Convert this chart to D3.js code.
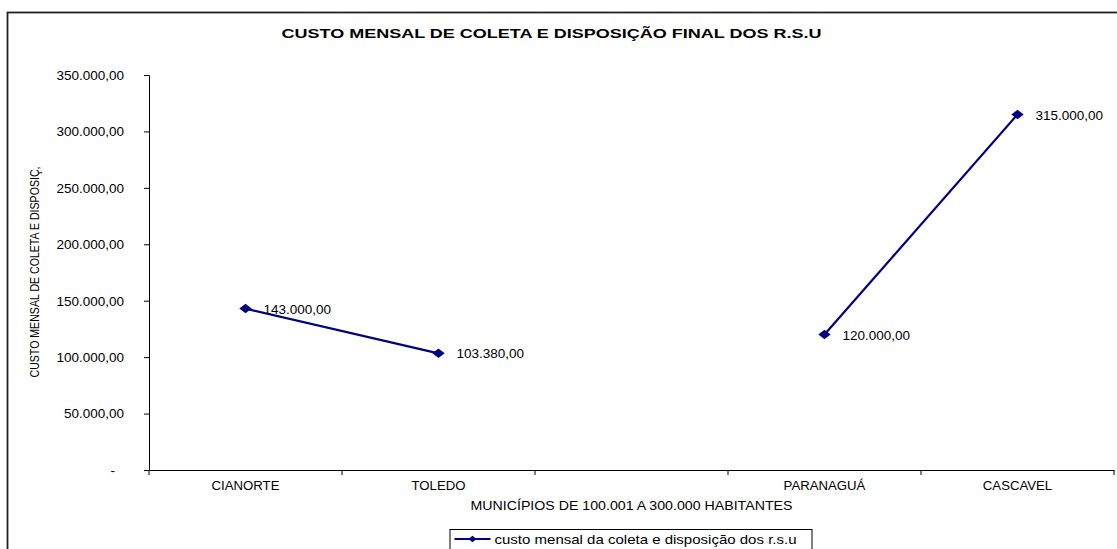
<!DOCTYPE html>
<html>
<head>
<meta charset="utf-8">
<script src="https://cdn.jsdelivr.net/npm/d3@7"></script>
<style>
  html, body { margin: 0; padding: 0; background: #fff; }
  svg { display: block; }
  text { font-family: Arial, "Liberation Sans", sans-serif; fill: #000; }
</style>
</head>
<body>
<svg id="chart" width="1117" height="549"></svg>
<script>
// Municípios de 100.001 a 300.000 habitantes — custo mensal de coleta e disposição final
const categories = ["CIANORTE", "TOLEDO", "", "PARANAGUÁ", "CASCAVEL"];
const custoMensal = [143000, 103380, null, 120000, 315000];
const yTicks = [0, 50000, 100000, 150000, 200000, 250000, 300000, 350000];

const chartTitle = "CUSTO MENSAL DE COLETA E DISPOSIÇÃO FINAL DOS R.S.U";
const xTitle = "MUNICÍPIOS DE 100.001 A 300.000 HABITANTES";
const yTitle = "CUSTO MENSAL DE COLETA E DISPOSIÇ,";
const seriesName = "custo mensal da coleta e disposição dos r.s.u";

const W = 1117, H = 549;
const plot = { left: 149, right: 1114, top: 75, bottom: 470 };
const navy = "#000080";

const ptBR = d3.formatLocale({ decimal: ",", thousands: ".", grouping: [3], currency: ["R$ ", ""] });
const fmt = ptBR.format(",.2f");
const fmtTick = v => v === 0 ? "-" : fmt(v);

const svg = d3.select("#chart");

// outer chart frame (runs past the right and bottom edges)
svg.append("rect")
  .attr("x", 7.5).attr("y", 12.5)
  .attr("width", W + 40).attr("height", H + 40)
  .attr("fill", "#fff").attr("stroke", "#222").attr("stroke-width", 1.8);

const idx = categories.map((_, i) => i);
const x = d3.scaleBand().domain(idx).range([plot.left, plot.right]).padding(0);
const y = d3.scaleLinear().domain([0, 350000]).range([plot.bottom, plot.top]);

// title
svg.append("text")
  .attr("x", (plot.left + plot.right) / 2 - 80).attr("y", 38)
  .attr("text-anchor", "middle")
  .attr("font-weight", "bold").attr("font-size", 13)
  .attr("textLength", 540).attr("lengthAdjust", "spacingAndGlyphs")
  .text(chartTitle);

// y axis
const yAxis = svg.append("g")
  .attr("transform", `translate(${plot.left},0)`)
  .call(d3.axisLeft(y).tickValues(yTicks).tickFormat(fmtTick).tickSize(5).tickPadding(20));
yAxis.selectAll("text")
  .attr("font-size", 13.5).attr("font-family", "Arial, 'Liberation Sans', sans-serif")
  .attr("dx", d => d === 0 ? -9 : 0);
yAxis.selectAll("line, path").attr("stroke", "#000").attr("stroke-width", 1);

// x axis: labels centred in each band, tick marks on band boundaries
const xAxis = svg.append("g")
  .attr("transform", `translate(0,${plot.bottom})`)
  .call(d3.axisBottom(x).tickFormat(i => categories[i]).tickSize(0).tickPadding(11));
xAxis.select(".domain").attr("stroke", "#000").attr("stroke-width", 1);
xAxis.selectAll("text")
  .attr("font-size", 13.2).attr("font-family", "Arial, 'Liberation Sans', sans-serif");

const bounds = idx.map(i => x(i)).concat([x(idx[idx.length - 1]) + x.bandwidth()]);
xAxis.selectAll("line.bound").data(bounds).enter().append("line")
  .attr("class", "bound")
  .attr("x1", d => d).attr("x2", d => d)
  .attr("y1", 0).attr("y2", 5)
  .attr("stroke", "#000").attr("stroke-width", 1);

// axis titles
svg.append("text")
  .attr("x", (plot.left + plot.right) / 2).attr("y", 510)
  .attr("text-anchor", "middle").attr("font-size", 12.5)
  .attr("textLength", 322).attr("lengthAdjust", "spacingAndGlyphs")
  .text(xTitle);

svg.append("text")
  .attr("transform", `translate(39,272) rotate(-90)`)
  .attr("text-anchor", "middle").attr("font-size", 13.5)
  .attr("textLength", 211).attr("lengthAdjust", "spacingAndGlyphs")
  .text(yTitle);

// series
const cx = i => x(i) + x.bandwidth() / 2;
const pts = idx.map(i => ({ i, v: custoMensal[i] }));

const line = d3.line()
  .defined(d => d.v != null)
  .x(d => cx(d.i)).y(d => y(d.v));

svg.append("path")
  .datum(pts)
  .attr("d", line)
  .attr("fill", "none").attr("stroke", navy).attr("stroke-width", 2.2);

// wide diamond marker
const diamond = {
  draw(ctx, size) {
    const r = Math.sqrt(size) / 2;
    ctx.moveTo(-r * 1.3, 0);
    ctx.lineTo(0, -r);
    ctx.lineTo(r * 1.3, 0);
    ctx.lineTo(0, r);
    ctx.closePath();
  }
};
const sym = d3.symbol().type(diamond).size(90);

const valid = pts.filter(d => d.v != null);
svg.selectAll("path.marker").data(valid).enter().append("path")
  .attr("class", "marker")
  .attr("transform", d => `translate(${cx(d.i)},${y(d.v)})`)
  .attr("d", sym)
  .attr("fill", navy);

svg.selectAll("text.vlabel").data(valid).enter().append("text")
  .attr("class", "vlabel")
  .attr("x", d => cx(d.i) + 18).attr("y", d => y(d.v) + 5)
  .attr("font-size", 13.5)
  .text(d => fmt(d.v));

// legend
const legW = 362;
const legX = (plot.left + plot.right) / 2 - legW / 2 - 1;
const legY = 529;
const leg = svg.append("g").attr("transform", `translate(${legX},${legY})`);
leg.append("rect")
  .attr("x", 0.5).attr("y", 0.5).attr("width", legW).attr("height", 40)
  .attr("fill", "#fff").attr("stroke", "#000").attr("stroke-width", 1);
leg.append("line")
  .attr("x1", 5).attr("x2", 41).attr("y1", 10).attr("y2", 10)
  .attr("stroke", navy).attr("stroke-width", 2);
leg.append("path")
  .attr("transform", "translate(23,10)")
  .attr("d", d3.symbol().type(diamond).size(40))
  .attr("fill", navy);
leg.append("text")
  .attr("x", 45).attr("y", 14.5)
  .attr("font-size", 13)
  .attr("textLength", 302).attr("lengthAdjust", "spacingAndGlyphs")
  .text(seriesName);
</script>
</body>
</html>
